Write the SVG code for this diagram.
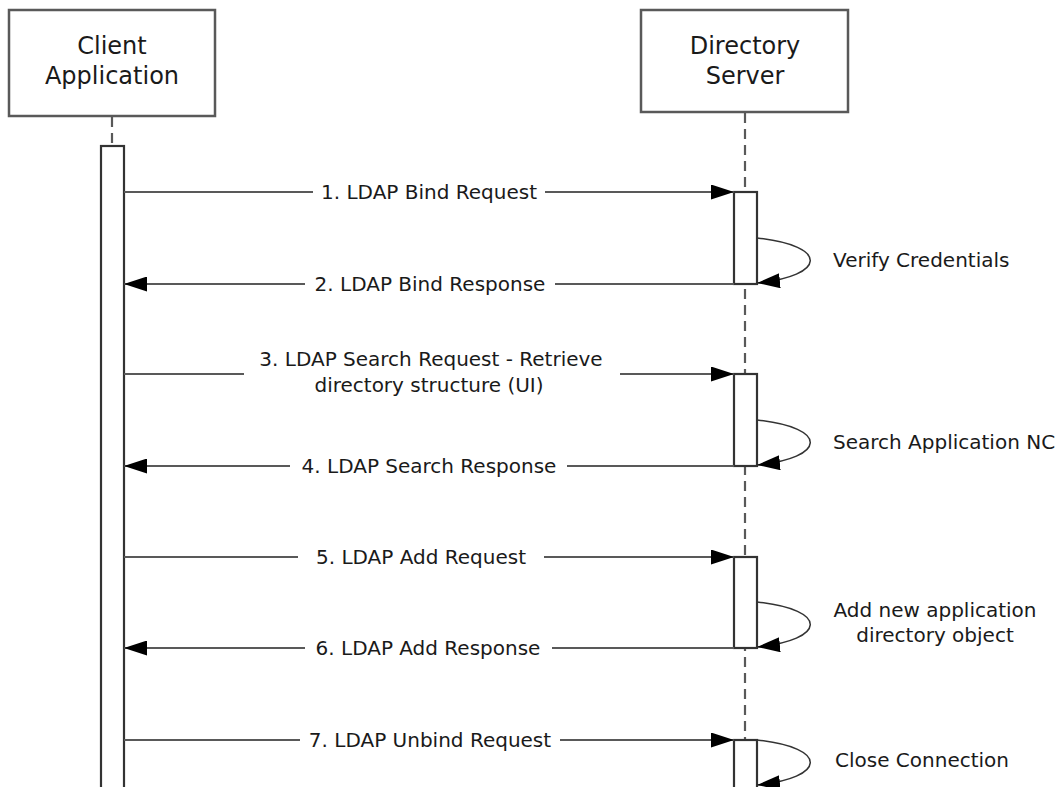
<svg xmlns="http://www.w3.org/2000/svg" width="1064" height="787" viewBox="0 0 1064 787">
<style>
.box{fill:#fff;stroke:#595959;stroke-width:2.5}
.act{fill:#fff;stroke:#333;stroke-width:2.2}
.life{stroke:#595959;stroke-width:2.2;stroke-dasharray:10 6;fill:none}
.msg{stroke:#595959;stroke-width:2.2;fill:none}
.loop{stroke:#333;stroke-width:1.5;fill:none}
.t{font-family:"DejaVu Sans",Verdana,sans-serif;font-size:20px;fill:#1a1a1a;text-anchor:middle}
.tl{font-family:"DejaVu Sans",Verdana,sans-serif;font-size:20px;fill:#1a1a1a}
.title{font-family:"DejaVu Sans",Verdana,sans-serif;font-size:24px;fill:#1a1a1a;text-anchor:middle}
</style>
<defs>
<marker id="arr" markerWidth="23" markerHeight="15" refX="23" refY="7.5" orient="auto" markerUnits="userSpaceOnUse">
<path d="M0,0 L23,7.5 L0,15 Z" fill="#000"/>
</marker>
</defs>
<g id="lifelines">
<line class="life" x1="112" y1="117" x2="112" y2="146"/>
<line class="life" x1="745" y1="113" x2="745" y2="787"/>
</g>
<g id="client">
<rect class="box" x="9" y="10" width="206" height="106"/>
<text class="title" x="112" y="54">Client</text>
<text class="title" x="112" y="84">Application</text>
</g>
<g id="server">
<rect class="box" x="641" y="10" width="207" height="102"/>
<text class="title" x="745" y="54">Directory</text>
<text class="title" x="745" y="84">Server</text>
</g>
<g id="activations">
<rect class="act" x="101" y="146" width="23" height="645"/>
<rect class="act" x="734" y="192" width="23" height="92"/>
<rect class="act" x="734" y="374" width="23" height="92"/>
<rect class="act" x="734" y="557" width="23" height="91"/>
<rect class="act" x="734" y="740" width="23" height="55"/>
</g>
<g id="connectors">
<line class="msg" x1="124" y1="192" x2="313" y2="192"/>
<line class="msg" x1="545" y1="192" x2="734" y2="192" marker-end="url(#arr)"/>
<line class="msg" x1="734" y1="284" x2="555" y2="284"/>
<line class="msg" x1="305" y1="284" x2="124" y2="284" marker-end="url(#arr)"/>
<line class="msg" x1="124" y1="374" x2="244" y2="374"/>
<line class="msg" x1="620" y1="374" x2="734" y2="374" marker-end="url(#arr)"/>
<line class="msg" x1="734" y1="466" x2="567" y2="466"/>
<line class="msg" x1="290" y1="466" x2="124" y2="466" marker-end="url(#arr)"/>
<line class="msg" x1="124" y1="557" x2="298" y2="557"/>
<line class="msg" x1="544" y1="557" x2="734" y2="557" marker-end="url(#arr)"/>
<line class="msg" x1="734" y1="648" x2="552" y2="648"/>
<line class="msg" x1="305" y1="648" x2="124" y2="648" marker-end="url(#arr)"/>
<line class="msg" x1="124" y1="740" x2="300" y2="740"/>
<line class="msg" x1="560" y1="740" x2="734" y2="740" marker-end="url(#arr)"/>
<path class="loop" d="M757,238 C830,246 826,276 757,283" marker-end="url(#arr)"/>
<path class="loop" d="M757,420 C830,428 826,458 757,465" marker-end="url(#arr)"/>
<path class="loop" d="M757,602 C830,610 826,640 757,647" marker-end="url(#arr)"/>
<path class="loop" d="M757,740 C830,748 826,778 757,785" marker-end="url(#arr)"/>
</g>
<g id="labels">
<text class="t" x="429" y="199">1. LDAP Bind Request</text>
<text class="t" x="430" y="291">2. LDAP Bind Response</text>
<text class="t" x="431" y="366">3. LDAP Search Request - Retrieve</text>
<text class="t" x="429" y="392">directory structure (UI)</text>
<text class="t" x="429" y="473">4. LDAP Search Response</text>
<text class="t" x="421" y="564">5. LDAP Add Request</text>
<text class="t" x="428" y="655">6. LDAP Add Response</text>
<text class="t" x="430" y="747">7. LDAP Unbind Request</text>
<text class="tl" x="833" y="267">Verify Credentials</text>
<text class="tl" x="833" y="449">Search Application NC</text>
<text class="t" x="935" y="617">Add new application</text>
<text class="t" x="935" y="642">directory object</text>
<text class="tl" x="835" y="767">Close Connection</text>
</g>
</svg>
